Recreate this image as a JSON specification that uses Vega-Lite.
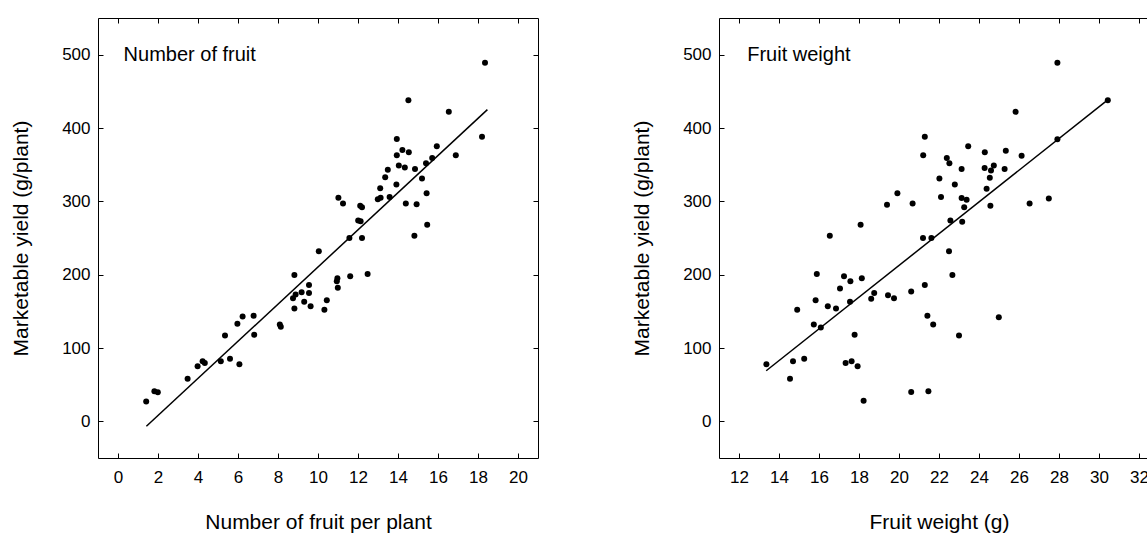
{
  "$schema": "https://vega.github.io/schema/vega-lite/v6.json",
  "padding": {"left": 10, "top": 17, "right": 0, "bottom": 0},
  "background": "white",
  "spacing": 92,
  "datasets": {
    "numPts": [
      {"x": 1.41, "y": 27}, {"x": 1.82, "y": 41}, {"x": 1.99, "y": 39.5}, {"x": 3.48, "y": 58},
      {"x": 3.98, "y": 75}, {"x": 4.23, "y": 82}, {"x": 4.34, "y": 79.5}, {"x": 5.14, "y": 82},
      {"x": 5.35, "y": 117}, {"x": 5.6, "y": 85.5}, {"x": 5.97, "y": 133}, {"x": 6.07, "y": 78},
      {"x": 6.23, "y": 143}, {"x": 6.78, "y": 144}, {"x": 6.81, "y": 118}, {"x": 8.09, "y": 132},
      {"x": 8.14, "y": 129}, {"x": 8.82, "y": 199.5}, {"x": 8.75, "y": 168}, {"x": 8.88, "y": 173},
      {"x": 8.82, "y": 154}, {"x": 9.18, "y": 176}, {"x": 9.31, "y": 163}, {"x": 9.55, "y": 186},
      {"x": 9.55, "y": 175}, {"x": 9.63, "y": 157}, {"x": 10.04, "y": 232}, {"x": 11.57, "y": 250},
      {"x": 12.2, "y": 250}, {"x": 14.82, "y": 253}, {"x": 10.97, "y": 195}, {"x": 10.94, "y": 191},
      {"x": 10.99, "y": 182}, {"x": 11.61, "y": 198}, {"x": 12.48, "y": 201}, {"x": 10.44, "y": 165},
      {"x": 10.32, "y": 152}, {"x": 18.35, "y": 489}, {"x": 14.52, "y": 438}, {"x": 16.54, "y": 422},
      {"x": 18.2, "y": 388}, {"x": 13.94, "y": 385}, {"x": 14.22, "y": 370}, {"x": 14.54, "y": 367},
      {"x": 13.94, "y": 363}, {"x": 15.94, "y": 375}, {"x": 14.04, "y": 349}, {"x": 14.34, "y": 346},
      {"x": 14.85, "y": 344}, {"x": 15.4, "y": 352}, {"x": 15.71, "y": 359}, {"x": 16.89, "y": 363},
      {"x": 13.49, "y": 343}, {"x": 13.36, "y": 333}, {"x": 13.11, "y": 318}, {"x": 13.92, "y": 323},
      {"x": 15.2, "y": 331}, {"x": 12.99, "y": 303}, {"x": 13.13, "y": 305}, {"x": 13.58, "y": 306},
      {"x": 11.02, "y": 305}, {"x": 11.25, "y": 297}, {"x": 12.11, "y": 294}, {"x": 12.2, "y": 292},
      {"x": 14.39, "y": 297}, {"x": 14.93, "y": 296}, {"x": 15.43, "y": 311}, {"x": 12.01, "y": 274},
      {"x": 12.13, "y": 273}, {"x": 15.46, "y": 268}
    ],
    "wtPts": [
      {"x": 21.29, "y": 388}, {"x": 21.21, "y": 363}, {"x": 19.92, "y": 311}, {"x": 19.4, "y": 295.5},
      {"x": 20.68, "y": 297}, {"x": 18.08, "y": 268}, {"x": 16.54, "y": 253}, {"x": 21.2, "y": 250},
      {"x": 21.62, "y": 250}, {"x": 27.92, "y": 489}, {"x": 30.44, "y": 438}, {"x": 25.83, "y": 422},
      {"x": 27.92, "y": 384.5}, {"x": 23.46, "y": 375}, {"x": 24.29, "y": 367}, {"x": 25.34, "y": 369},
      {"x": 26.13, "y": 362}, {"x": 22.39, "y": 359}, {"x": 22.52, "y": 352}, {"x": 23.13, "y": 344},
      {"x": 24.28, "y": 345.5}, {"x": 24.6, "y": 342}, {"x": 24.74, "y": 349}, {"x": 25.28, "y": 344},
      {"x": 22.02, "y": 331}, {"x": 22.79, "y": 323}, {"x": 24.54, "y": 332}, {"x": 24.38, "y": 317},
      {"x": 22.1, "y": 306}, {"x": 23.13, "y": 304.5}, {"x": 23.38, "y": 302}, {"x": 23.26, "y": 292},
      {"x": 24.57, "y": 294}, {"x": 26.53, "y": 297}, {"x": 27.49, "y": 304}, {"x": 22.57, "y": 274},
      {"x": 23.16, "y": 272}, {"x": 15.89, "y": 201}, {"x": 17.25, "y": 198}, {"x": 17.57, "y": 191},
      {"x": 18.14, "y": 195}, {"x": 17.05, "y": 181}, {"x": 15.83, "y": 165}, {"x": 16.44, "y": 157},
      {"x": 16.85, "y": 154}, {"x": 17.55, "y": 163}, {"x": 18.61, "y": 167}, {"x": 18.76, "y": 175},
      {"x": 19.45, "y": 172}, {"x": 19.75, "y": 168}, {"x": 20.61, "y": 177}, {"x": 21.29, "y": 186},
      {"x": 21.42, "y": 144}, {"x": 14.91, "y": 152}, {"x": 15.74, "y": 132}, {"x": 16.09, "y": 128},
      {"x": 17.78, "y": 118}, {"x": 13.37, "y": 78}, {"x": 14.7, "y": 82}, {"x": 15.26, "y": 85.5},
      {"x": 14.55, "y": 58}, {"x": 17.33, "y": 79.5}, {"x": 17.63, "y": 82}, {"x": 17.93, "y": 75},
      {"x": 18.23, "y": 28}, {"x": 20.61, "y": 40}, {"x": 21.47, "y": 41}, {"x": 22.5, "y": 232},
      {"x": 22.67, "y": 199.5}, {"x": 21.71, "y": 132}, {"x": 23.0, "y": 117}, {"x": 24.99, "y": 142}
    ],
    "numLine": [{"x": 1.42, "y": -6.8}, {"x": 18.47, "y": 425}],
    "wtLine": [{"x": 13.36, "y": 69}, {"x": 30.47, "y": 439}],
    "numLabel": [{"label": "Number of fruit", "x": 0.28, "y": 500}],
    "wtLabel": [{"label": "Fruit weight", "x": 12.41, "y": 500}]
  },
  "hconcat": [
    {
      "width": 440,
      "height": 440,
      "resolve": {"axis": {"x": "independent", "y": "independent"}},
      "layer": [
        {
          "data": {"name": "numPts"},
          "mark": {"type": "point", "filled": true, "color": "black", "size": 36, "opacity": 1},
          "encoding": {
            "x": {"field": "x", "type": "quantitative", "scale": {"domain": [-1, 21], "nice": false, "zero": false},
                  "axis": {"orient": "bottom", "values": [0, 2, 4, 6, 8, 10, 12, 14, 16, 18, 20], "title": "Number of fruit per plant", "labelPadding": 16}},
            "y": {"field": "y", "type": "quantitative", "scale": {"domain": [-50, 550], "nice": false, "zero": false},
                  "axis": {"orient": "left", "values": [0, 100, 200, 300, 400, 500], "title": "Marketable yield (g/plant)", "labelPadding": 13, "titlePadding": 30}}
          }
        },
        {
          "data": {"name": "numLine"},
          "mark": {"type": "line", "color": "black", "strokeWidth": 1.5},
          "encoding": {
            "x": {"field": "x", "type": "quantitative", "axis": {"orient": "top", "values": [0, 2, 4, 6, 8, 10, 12, 14, 16, 18, 20], "labels": false, "title": null}},
            "y": {"field": "y", "type": "quantitative", "axis": {"orient": "right", "values": [0, 100, 200, 300, 400, 500], "labels": false, "title": null}}
          }
        },
        {
          "data": {"name": "numLabel"},
          "mark": {"type": "text", "align": "left", "baseline": "middle", "fontSize": 20, "color": "black"},
          "encoding": {
            "x": {"field": "x", "type": "quantitative", "axis": null},
            "y": {"field": "y", "type": "quantitative", "axis": null},
            "text": {"field": "label"}
          }
        }
      ]
    },
    {
      "width": 440,
      "height": 440,
      "resolve": {"axis": {"x": "independent", "y": "independent"}},
      "layer": [
        {
          "data": {"name": "wtPts"},
          "mark": {"type": "point", "filled": true, "color": "black", "size": 36, "opacity": 1},
          "encoding": {
            "x": {"field": "x", "type": "quantitative", "scale": {"domain": [11, 33], "nice": false, "zero": false},
                  "axis": {"orient": "bottom", "values": [12, 14, 16, 18, 20, 22, 24, 26, 28, 30, 32], "title": "Fruit weight (g)", "labelPadding": 16}},
            "y": {"field": "y", "type": "quantitative", "scale": {"domain": [-50, 550], "nice": false, "zero": false},
                  "axis": {"orient": "left", "values": [0, 100, 200, 300, 400, 500], "title": "Marketable yield (g/plant)", "labelPadding": 13, "titlePadding": 30}}
          }
        },
        {
          "data": {"name": "wtLine"},
          "mark": {"type": "line", "color": "black", "strokeWidth": 1.5},
          "encoding": {
            "x": {"field": "x", "type": "quantitative", "axis": {"orient": "top", "values": [12, 14, 16, 18, 20, 22, 24, 26, 28, 30, 32], "labels": false, "title": null}},
            "y": {"field": "y", "type": "quantitative", "axis": {"orient": "right", "values": [0, 100, 200, 300, 400, 500], "labels": false, "title": null}}
          }
        },
        {
          "data": {"name": "wtLabel"},
          "mark": {"type": "text", "align": "left", "baseline": "middle", "fontSize": 20, "color": "black"},
          "encoding": {
            "x": {"field": "x", "type": "quantitative", "axis": null},
            "y": {"field": "y", "type": "quantitative", "axis": null},
            "text": {"field": "label"}
          }
        }
      ]
    }
  ],
  "config": {
    "font": "Liberation Sans",
    "view": {"stroke": "black", "strokeWidth": 1},
    "axis": {
      "labelFont": "Liberation Sans",
      "titleFont": "Liberation Sans",
      "labelFontSize": 17,
      "titleFontSize": 21,
      "titleFontWeight": "normal",
      "labelColor": "black",
      "titleColor": "black",
      "tickColor": "black",
      "tickSize": -5,
      "labelPadding": 10,
      "grid": false,
      "domain": false,
      "titlePadding": 26
    }
  }
}
